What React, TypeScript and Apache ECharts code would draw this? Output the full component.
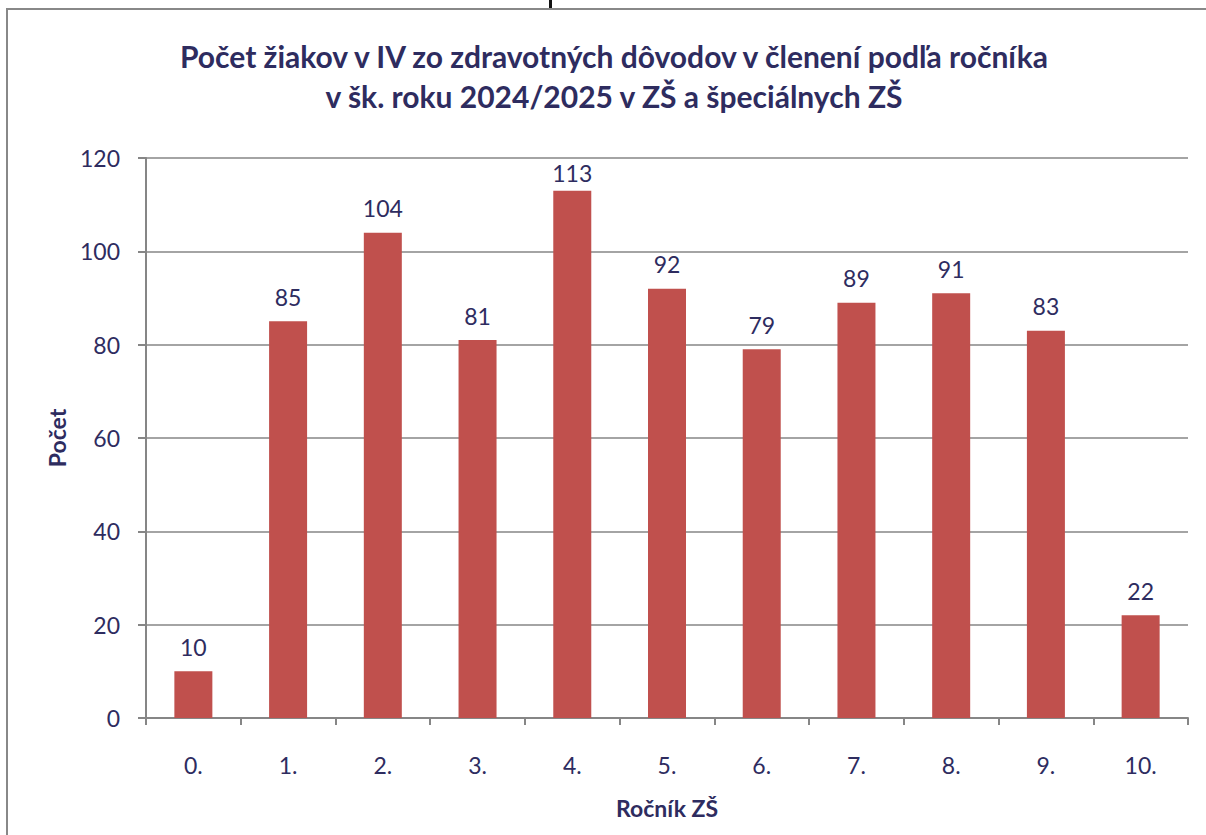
import React, { useEffect, useRef } from "react";
import * as echarts from "echarts";

const categories = ["0.", "1.", "2.", "3.", "4.", "5.", "6.", "7.", "8.", "9.", "10."];
const values = [10, 85, 104, 81, 113, 92, 79, 89, 91, 83, 22];
const titleLines = [
  "Počet žiakov v IV zo zdravotných dôvodov v členení podľa ročníka",
  "v šk. roku 2024/2025 v ZŠ a špeciálnych ZŠ",
];
const yName = "Počet";
const xName = "Ročník ZŠ";

const TEXT = "#2E2C5F";
const FONT = "Lato, 'Open Sans', sans-serif";
const Y_MAX = 120;

export default function App() {
  const ref = useRef<HTMLDivElement>(null);
  useEffect(() => {
    if (!ref.current) return;
    const chart = echarts.init(ref.current, null, { renderer: "svg" });
    // labels that would cross the top of the plot area are nudged down (as Excel does)
    const seriesData = values.map((v) =>
      v > Y_MAX - 9 ? { value: v, label: { distance: 6 } } : v
    );
    chart.setOption({
      animation: false,
      backgroundColor: "#ffffff",
      textStyle: { fontFamily: FONT },
      title: {
        text: titleLines.join("\n"),
        left: 609,
        top: 31,
        textAlign: "center",
        textStyle: {
          color: TEXT,
          fontSize: 30,
          fontWeight: "bold",
          fontFamily: FONT,
          lineHeight: 40,
        },
      },
      graphic: [
        {
          type: "rect",
          shape: { x: 7, y: 9, width: 1220, height: 840 },
          style: { fill: "none", stroke: "#888888", lineWidth: 2 },
          silent: true,
        },
        {
          type: "rect",
          shape: { x: 549, y: 0, width: 3, height: 8 },
          style: { fill: "#111111" },
          silent: true,
        },
      ],
      grid: { left: 146, right: 18, top: 158, bottom: 117, containLabel: false },
      xAxis: {
        type: "category",
        data: categories,
        name: xName,
        nameLocation: "middle",
        nameGap: 78,
        nameTextStyle: { color: TEXT, fontSize: 23, fontWeight: "bold", fontFamily: FONT },
        axisLine: { lineStyle: { color: "#868686", width: 2 } },
        axisTick: { show: true, length: 7, lineStyle: { color: "#868686", width: 2 } },
        axisLabel: { color: TEXT, fontSize: 23, margin: 35, fontFamily: FONT },
      },
      yAxis: {
        type: "value",
        min: 0,
        max: Y_MAX,
        interval: 20,
        name: yName,
        nameLocation: "middle",
        nameGap: 78,
        nameRotate: 90,
        nameTextStyle: { color: TEXT, fontSize: 23, fontWeight: "bold", fontFamily: FONT },
        axisLine: { show: true, lineStyle: { color: "#868686", width: 2 } },
        axisTick: { show: true, length: 8, inside: false, lineStyle: { color: "#868686", width: 2 } },
        axisLabel: { color: TEXT, fontSize: 23, margin: 26, fontFamily: FONT },
        splitLine: { lineStyle: { color: "#868686", width: 1.5 } },
      },
      series: [
        {
          type: "bar",
          data: seriesData,
          barWidth: 38,
          itemStyle: { color: "#C0504D" },
          label: {
            show: true,
            position: "top",
            distance: 13,
            color: TEXT,
            fontSize: 23,
            fontFamily: FONT,
          },
        },
      ],
    });
    return () => chart.dispose();
  }, []);
  return (
    <div
      ref={ref}
      style={{ position: "fixed", left: 0, top: 0, width: 1206, height: 835 }}
    />
  );
}
